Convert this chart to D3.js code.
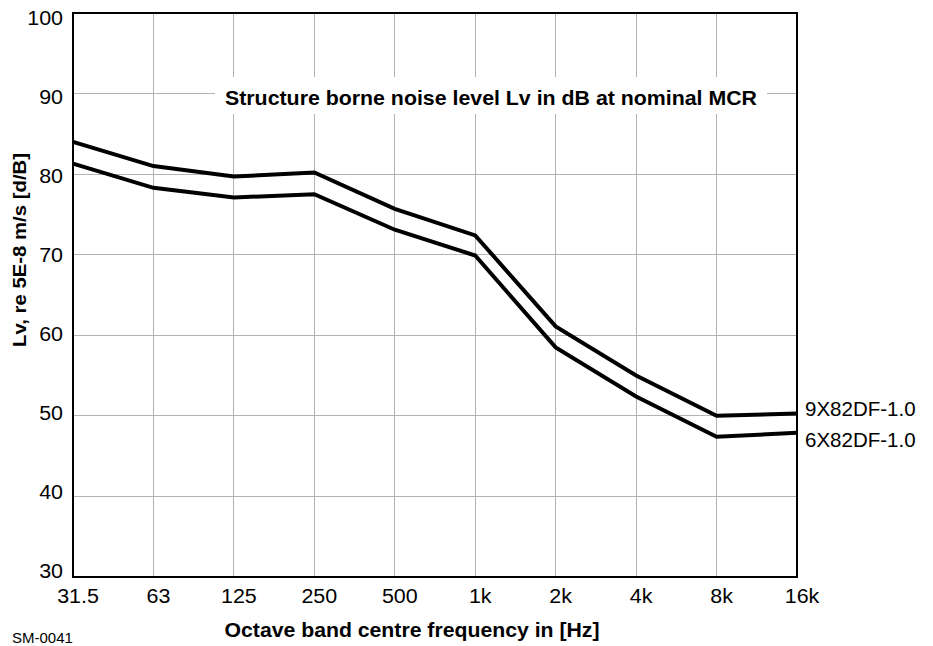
<!DOCTYPE html>
<html><head><meta charset="utf-8">
<script src="https://cdn.jsdelivr.net/npm/d3@7"></script>
<style>
html,body{margin:0;padding:0;background:#fff;}
svg{display:block;font-family:"Liberation Sans",Arial,sans-serif;}
</style></head>
<body>
<svg id="chart" width="933" height="646"></svg>
<script>
const categories = ["31.5","63","125","250","500","1k","2k","4k","8k","16k"];
const series9X = [84.0, 81.0, 79.7, 80.2, 75.7, 72.4, 61.1, 55.0, 50.0, 50.3];
const series6X = [81.3, 78.3, 77.1, 77.5, 73.1, 69.9, 58.5, 52.4, 47.4, 47.9];
const seriesNames = ["9X82DF-1.0", "6X82DF-1.0"];
const yTicks = [30, 40, 50, 60, 70, 80, 90, 100];
const chartTitle = "Structure borne noise level Lv in dB at nominal MCR";
const xTitle = "Octave band centre frequency in [Hz]";
const yTitle = "Lv, re 5E-8 m/s [d/B]";
const codeLabel = "SM-0041";

const svg = d3.select("#chart");
const L = 73, R = 797, T = 13, B = 577;

const x = d3.scalePoint().domain(categories).range([L, R]);
const y = d3.scaleLinear().domain([30, 100]).range([B, T]);
const yLab = d3.scaleLinear().domain([30, 100]).range([571, 18]);

const gridColor = "#b3b3b3";
svg.append("g").selectAll("line").data(categories.slice(1, -1)).join("line")
  .attr("x1", d => x(d)).attr("x2", d => x(d)).attr("y1", T).attr("y2", B)
  .attr("stroke", gridColor).attr("stroke-width", 1).attr("shape-rendering", "crispEdges");
svg.append("g").selectAll("line").data(yTicks.slice(1, -1)).join("line")
  .attr("x1", L).attr("x2", R).attr("y1", d => y(d)).attr("y2", d => y(d))
  .attr("stroke", gridColor).attr("stroke-width", 1).attr("shape-rendering", "crispEdges");

// title with white knockout
const titleG = svg.append("g");
const knock = titleG.append("rect").attr("fill", "#fff");
titleG.append("text").attr("x", 491).attr("y", 105)
  .attr("text-anchor", "middle").attr("font-weight", "bold").attr("font-size", 21)
  .attr("textLength", 532).attr("lengthAdjust", "spacingAndGlyphs")
  .text(chartTitle);
knock.attr("x", 491 - 532 / 2 - 10).attr("y", 77).attr("width", 532 + 20).attr("height", 37);

const line = d3.line().x((d, i) => x(categories[i])).y(d => y(d));
[series9X, series6X].forEach(s => {
  svg.append("path").datum(s).attr("d", line).attr("fill", "none")
    .attr("stroke", "#000").attr("stroke-width", 4).attr("stroke-linejoin", "miter");
});

svg.append("rect").attr("x", L).attr("y", T).attr("width", R - L).attr("height", B - T)
  .attr("fill", "none").attr("stroke", "#000").attr("stroke-width", 2);

svg.append("g").selectAll("text").data(yTicks).join("text")
  .attr("transform", d => `translate(63,${yLab(d)}) scale(1.1,1)`).attr("dy", "0.35em")
  .attr("text-anchor", "end").attr("font-size", 19.5).attr("fill", "#000").text(d => d);

svg.append("g").selectAll("text").data(categories).join("text")
  .attr("transform", d => `translate(${x(d) + 5},603) scale(1.1,1)`)
  .attr("text-anchor", "middle").attr("font-size", 19.5).attr("fill", "#000").text(d => d);

[series9X, series6X].forEach((s, i) => {
  svg.append("text").attr("x", 805).attr("y", y(s[s.length - 1]) + (i === 0 ? -5 : 7)).attr("dy", "0.35em")
    .attr("font-size", 20.5).attr("fill", "#000").text(seriesNames[i]);
});

svg.append("text").attr("x", 412).attr("y", 637).attr("text-anchor", "middle")
  .attr("font-weight", "bold").attr("font-size", 21)
  .attr("textLength", 375).attr("lengthAdjust", "spacingAndGlyphs").text(xTitle);
svg.append("text").attr("transform", "translate(26,250) rotate(-90)").attr("text-anchor", "middle")
  .attr("font-weight", "bold").attr("font-size", 18)
  .attr("textLength", 194).attr("lengthAdjust", "spacingAndGlyphs").text(yTitle);
svg.append("text").attr("x", 12).attr("y", 643).attr("font-size", 15).text(codeLabel);
</script>
</body></html>
